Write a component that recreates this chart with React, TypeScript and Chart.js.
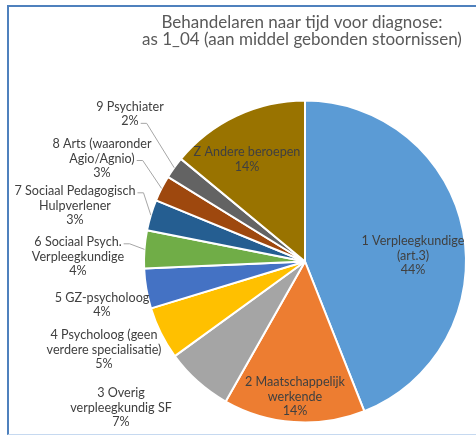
import React, { useEffect, useRef } from "react";
import { Chart, registerables } from "chart.js";

Chart.register(...registerables);

const titleLines = [
  "Behandelaren naar tijd voor diagnose:",
  "as 1_04 (aan middel gebonden stoornissen)",
];

const categories = [
  "1 Verpleegkundige (art.3)",
  "2 Maatschappelijk werkende",
  "3 Overig verpleegkundig SF",
  "4 Psycholoog (geen verdere specialisatie)",
  "5 GZ-psycholoog",
  "6 Sociaal Psych. Verpleegkundige",
  "7 Sociaal Pedagogisch Hulpverlener",
  "8 Arts (waaronder Agio/Agnio)",
  "9 Psychiater",
  "Z Andere beroepen",
];

const labelLines = [
  ["1 Verpleegkundige", "(art.3)"],
  ["2 Maatschappelijk", "werkende"],
  ["3 Overig", "verpleegkundig SF"],
  ["4 Psycholoog (geen", "verdere specialisatie)"],
  ["5 GZ-psycholoog"],
  ["6 Sociaal Psych.", "Verpleegkundige"],
  ["7 Sociaal Pedagogisch", "Hulpverlener"],
  ["8 Arts (waaronder", "Agio/Agnio)"],
  ["9 Psychiater"],
  ["Z Andere beroepen"],
];

const shares = [44.0, 14.2, 6.8, 5.3, 4.0, 3.8, 3.1, 2.6, 2.2, 14.0];

const sliceColors = [
  "#5B9BD5",
  "#ED7D31",
  "#A5A5A5",
  "#FFC000",
  "#4472C4",
  "#70AD47",
  "#255E91",
  "#9E480E",
  "#636363",
  "#997300",
];

// label block centres, relative to the pie centre
const labelOffsets = [
  [108, -6],
  [-10, 135],
  [-184, 146],
  [-201, 88],
  [-203, 43.5],
  [-227, -5],
  [-230, -56],
  [-203, -103],
  [-175, -147.5],
  [-58, -102],
];
// which text line the leader line leaves from (-1 = none)
const leaderFrom = [-1, -1, -1, -1, -1, 0, 0, 1, 1, -1];

const FONT = "Lato, 'Open Sans', sans-serif";

const labelPlugin = {
  id: "pieLabels",
  afterDatasetsDraw(chart: any) {
    const ctx = chart.ctx as CanvasRenderingContext2D;
    const meta = chart.getDatasetMeta(0);
    const data = chart.data.datasets[0].data as number[];
    const total = data.reduce((a, b) => a + b, 0);
    ctx.save();
    let cxPie = 0;
    meta.data.forEach((arc: any, i: number) => {
      const p = arc.getProps(["x", "y", "startAngle", "endAngle", "outerRadius"], true);
      cxPie = p.x;
      const pct = Math.round((data[i] / total) * 100) + "%";
      const lines = [...labelLines[i], pct];
      const lx = p.x + labelOffsets[i][0];
      const ly = p.y + labelOffsets[i][1];
      const lh = 14.7;
      ctx.font = `12.6px ${FONT}`;
      ctx.fillStyle = "#404040";
      ctx.textAlign = "center";
      ctx.textBaseline = "middle";
      const n = lines.length;
      lines.forEach((t, k) => {
        ctx.fillText(t, lx, ly + (k - (n - 1) / 2) * lh);
      });
      const li = leaderFrom[i];
      if (li >= 0) {
        const w = ctx.measureText(lines[li]).width;
        const sx = lx + w / 2 + 2;
        const sy = ly + (li - (n - 1) / 2) * lh + 2;
        const mid = (p.startAngle + p.endAngle) / 2;
        const ex = p.x + Math.cos(mid) * p.outerRadius;
        const ey = p.y + Math.sin(mid) * p.outerRadius;
        ctx.strokeStyle = "#A6A6A6";
        ctx.lineWidth = 1;
        ctx.beginPath();
        ctx.moveTo(sx, sy);
        ctx.lineTo(sx + 6, sy);
        ctx.lineTo(ex, ey);
        ctx.stroke();
      }
    });
    // title
    ctx.font = `17px ${FONT}`;
    ctx.fillStyle = "#595959";
    ctx.textAlign = "center";
    ctx.textBaseline = "middle";
    ctx.fillText(titleLines[0], cxPie - 3, 23);
    ctx.fillText(titleLines[1], cxPie - 3, 39.5);
    ctx.restore();
  },
};

export default function App() {
  const ref = useRef<HTMLCanvasElement | null>(null);
  useEffect(() => {
    if (!ref.current) return;
    const chart = new Chart(ref.current, {
      type: "pie",
      data: {
        labels: categories,
        datasets: [
          {
            data: shares,
            backgroundColor: sliceColors,
            borderColor: "#FFFFFF",
            borderWidth: 2,
          },
        ],
      },
      options: {
        responsive: false,
        animation: false,
        layout: { padding: { top: 99, bottom: 11, left: 143, right: 9 } },
        plugins: {
          legend: { display: false },
          tooltip: { enabled: false },
          title: { display: false },
        },
      },
      plugins: [labelPlugin],
    });
    return () => chart.destroy();
  }, []);
  return (
    <div
      style={{
        position: "absolute",
        left: 0,
        top: 0,
        width: 476,
        height: 435,
        background: "#FFFFFF",
        overflow: "hidden",
      }}
    >
      <canvas ref={ref} width={476} height={435} style={{ position: "absolute", left: 0, top: 0 }} />
      <div
        style={{
          position: "absolute",
          left: 7,
          top: 5,
          width: 480,
          height: 427,
          borderLeft: "2px solid #4F81BD",
          borderTop: "2px solid #4F81BD",
          borderBottom: "1px solid #C6D9F0",
          pointerEvents: "none",
        }}
      />
    </div>
  );
}
